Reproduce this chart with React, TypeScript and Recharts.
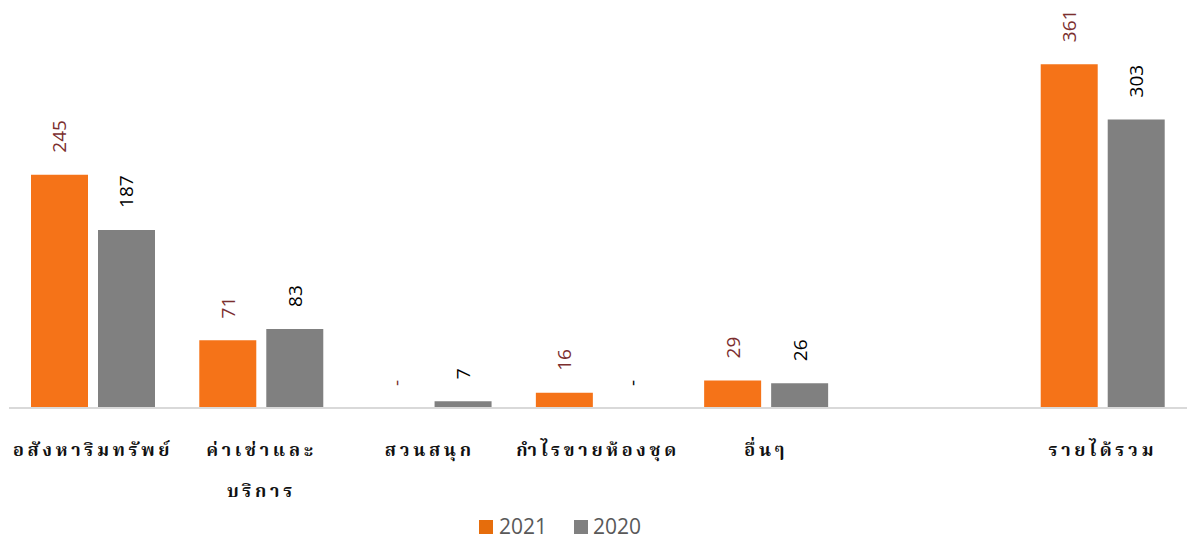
import React from 'react';
import { BarChart, Bar, XAxis, YAxis, Legend, LabelList, ReferenceDot } from 'recharts';

const categories = ['อสังหาริมทรัพย์', 'ค่าเช่าและบริการ', 'สวนสนุก', 'กำไรขายห้องชุด', 'อื่นๆ', '', 'รายได้รวม'];
const tickLines: string[][] = [
  ['อสังหาริมทรัพย์'],
  ['ค่าเช่าและ', 'บริการ'],
  ['สวนสนุก'],
  ['กำไรขายห้องชุด'],
  ['อื่นๆ'],
  [],
  ['รายได้รวม'],
];
const values2021 = [245, 71, 0, 16, 29, null, 361];
const values2020 = [187, 83, 7, 0, 26, null, 303];

const data = categories.map((name, i) => ({
  name,
  idx: i,
  y2021: values2021[i],
  y2020: values2020[i],
}));

const ORANGE = '#F57318';
const GRAY = '#808080';
const RED_LABEL = '#7B2E2E';
const BAR_SIZE = 57;
const BAR_GAP = 10;

const CategoryTick = (props: any) => {
  const { x, y, payload } = props;
  const lines = tickLines[payload.index] || [];
  return (
    <g>
      {lines.map((line, i) => (
        <text
          key={i}
          x={x}
          y={y + 40 + i * 41}
          textAnchor="middle"
          fill="#111"
          fontSize={18}
          fontWeight="bold"
          letterSpacing={3.7}
          fontFamily="'Noto Serif Thai', 'Noto Sans Thai Looped', 'Noto Sans Thai', 'Noto Sans', serif"
        >
          {line}
        </text>
      ))}
    </g>
  );
};

const rotatedText = (cx: number, ty: number, color: string, text: string | number) => (
  <text
    x={cx}
    y={ty}
    transform={`rotate(-90, ${cx}, ${ty})`}
    textAnchor="start"
    dominantBaseline="central"
    fill={color}
    fontSize={19}
    fontFamily="'Open Sans', sans-serif"
  >
    {text}
  </text>
);

const makeLabel = (color: string) => (props: any) => {
  const { x, y, width, value } = props;
  if (value === null || value === undefined) return null;
  return rotatedText(x + width / 2, y - 22, color, value === 0 ? '-' : value);
};

// zero values are shown as "-" above the baseline, like Excel's accounting format
const makeZeroLabel = (color: string, side: number) => (props: any) => {
  const { viewBox } = props;
  const cx = viewBox.x + viewBox.width / 2 + side * (BAR_SIZE + BAR_GAP) / 2;
  return rotatedText(cx, viewBox.y - 22, color, '-');
};

const LegendContent = () => (
  <div
    style={{
      display: 'flex',
      justifyContent: 'center',
      alignItems: 'center',
      fontFamily: "'Open Sans', sans-serif",
      fontSize: 21,
      lineHeight: '21px',
      height: 21,
      color: '#595959',
      paddingRight: 76,
      position: 'relative',
      top: 8,
    }}
  >
    <span style={{ width: 14, height: 14, background: '#E66D0C', display: 'inline-block', marginRight: 6 }} />
    <span style={{ marginRight: 27 }}>2021</span>
    <span style={{ width: 14, height: 14, background: GRAY, display: 'inline-block', marginRight: 5 }} />
    <span>2020</span>
  </div>
);

export default function App() {
  return (
    <div style={{ position: 'absolute', left: 0, top: 0, background: '#fff' }}>
      <BarChart
        width={1187}
        height={538}
        data={data}
        margin={{ top: 27, right: 0, left: 9, bottom: 0 }}
        barSize={BAR_SIZE}
        barGap={BAR_GAP}
      >
        <XAxis
          dataKey="idx"
          tick={<CategoryTick />}
          tickLine={false}
          axisLine={{ stroke: '#D9D9D9', strokeWidth: 2 }}
          interval={0}
          height={100}
        />
        <YAxis hide domain={[0, 400]} />
        <Legend verticalAlign="bottom" content={<LegendContent />} height={30} />
        <Bar dataKey="y2021" fill={ORANGE} isAnimationActive={false}>
          <LabelList dataKey="y2021" content={makeLabel(RED_LABEL)} />
        </Bar>
        <Bar dataKey="y2020" fill={GRAY} isAnimationActive={false}>
          <LabelList dataKey="y2020" content={makeLabel('#000000')} />
        </Bar>
        {data.map((d) =>
          d.y2021 === 0 ? (
            <ReferenceDot key={`a${d.idx}`} x={d.idx} y={0} r={0} stroke="none" fill="none"
              label={makeZeroLabel(RED_LABEL, -1)} />
          ) : null
        )}
        {data.map((d) =>
          d.y2020 === 0 ? (
            <ReferenceDot key={`b${d.idx}`} x={d.idx} y={0} r={0} stroke="none" fill="none"
              label={makeZeroLabel('#000000', 1)} />
          ) : null
        )}
      </BarChart>
    </div>
  );
}
